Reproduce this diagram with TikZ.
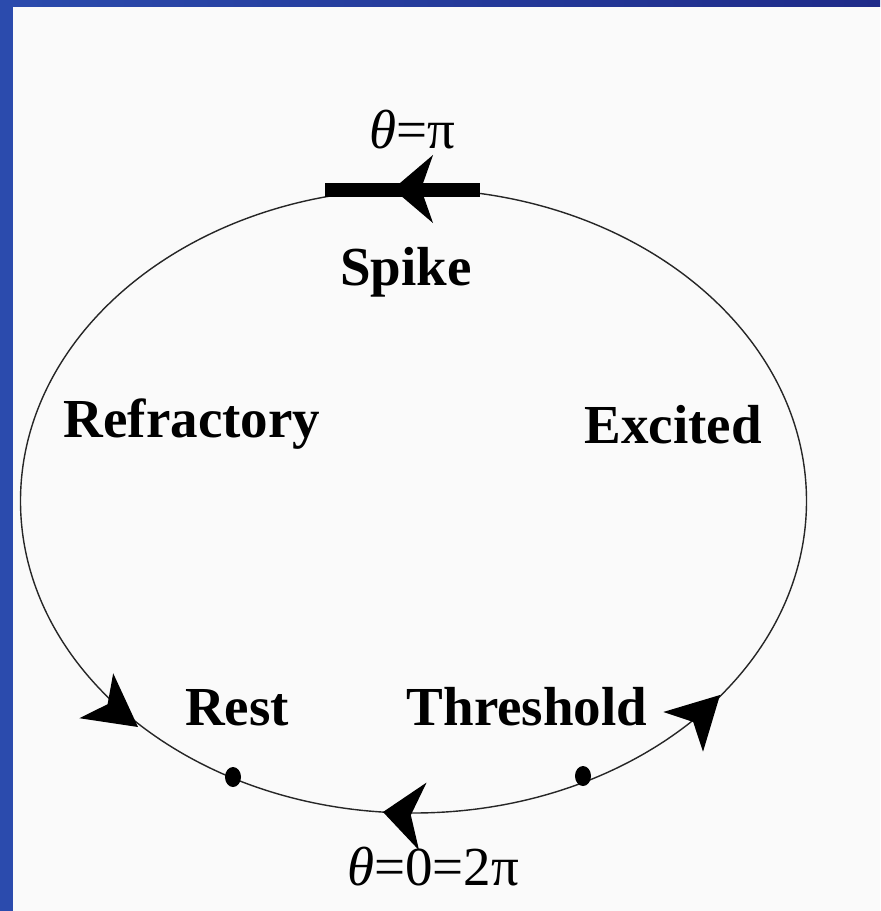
\documentclass[tikz,border=0pt]{standalone}
\usepackage{fontspec}
\setmainfont{Liberation Serif}
\usetikzlibrary{arrows.meta}
\definecolor{frameblue}{RGB}{43,75,173}
\definecolor{frameblue2}{RGB}{31,43,137}
\definecolor{paper}{RGB}{250,250,250}

\begin{document}
\begin{tikzpicture}[
  x=0.5pt, y=-0.5pt,
  lbl/.style={font=\fontsize{27.5}{30}\selectfont\bfseries, anchor=base,
              inner sep=0pt},
  phase/.style={font=\fontsize{27.5}{30}\selectfont, anchor=base,
                inner sep=0pt},
  orbit/.style={draw=black!85, line width=0.7pt},
  flow/.style={-{Stealth[length=20pt, width=34pt, inset=6pt]},
               line width=0.7pt},
  sideflow/.style={-{Stealth[length=26pt, width=28pt, inset=7pt]},
                   line width=0.7pt},
  fixpt/.style={fill=black}
]
\useasboundingbox (0,0) rectangle (880,911);
\fill[paper] (0,0) rectangle (880,911);
\shade[left color=frameblue, right color=frameblue2] (0,0) rectangle (880,6);
\fill[frameblue] (0,0) rectangle (13,911);

% the circle of phases
\coordinate (c) at (413.5,501);
\draw[orbit] (c) ellipse [x radius=393, y radius=312];

% spike segment
\coordinate (spikeL) at (325,190);
\coordinate (spikeR) at (480,190);
\draw[line width=7pt] (spikeL) -- (spikeR);

% direction of the flow
\coordinate (topA) at (402,189);
\coordinate (topB) at (393,189);
\draw[flow] (topA) -- (topB);
\coordinate (leftA) at (130,721);
\coordinate (leftB) at (138,727);
\draw[sideflow] (leftA) -- (leftB);
\coordinate (botA) at (392,813);
\coordinate (botB) at (383,812);
\draw[flow] (botA) -- (botB);
\coordinate (rightA) at (713,702);
\coordinate (rightB) at (720,695);
\draw[sideflow] (rightA) -- (rightB);

% fixed points
\fill[fixpt] (233,777) circle [x radius=8, y radius=10];
\fill[fixpt] (583,776) circle [x radius=8, y radius=10];

\node[phase] (pi) at (412,148) {{\itshape θ}=π};
\node[lbl] (spike) at (406,285) {Spike};
\node[lbl] (refr) at (192,437) {Refractory};
\node[lbl] (exc) at (673,443) {Excited};
\node[lbl] (rest) at (237,725) {Rest};
\node[lbl] (thr) at (527,725) {Threshold};
\node[phase] (zero) at (433,885) {{\itshape θ}=0=2π};

\end{tikzpicture}
\end{document}
